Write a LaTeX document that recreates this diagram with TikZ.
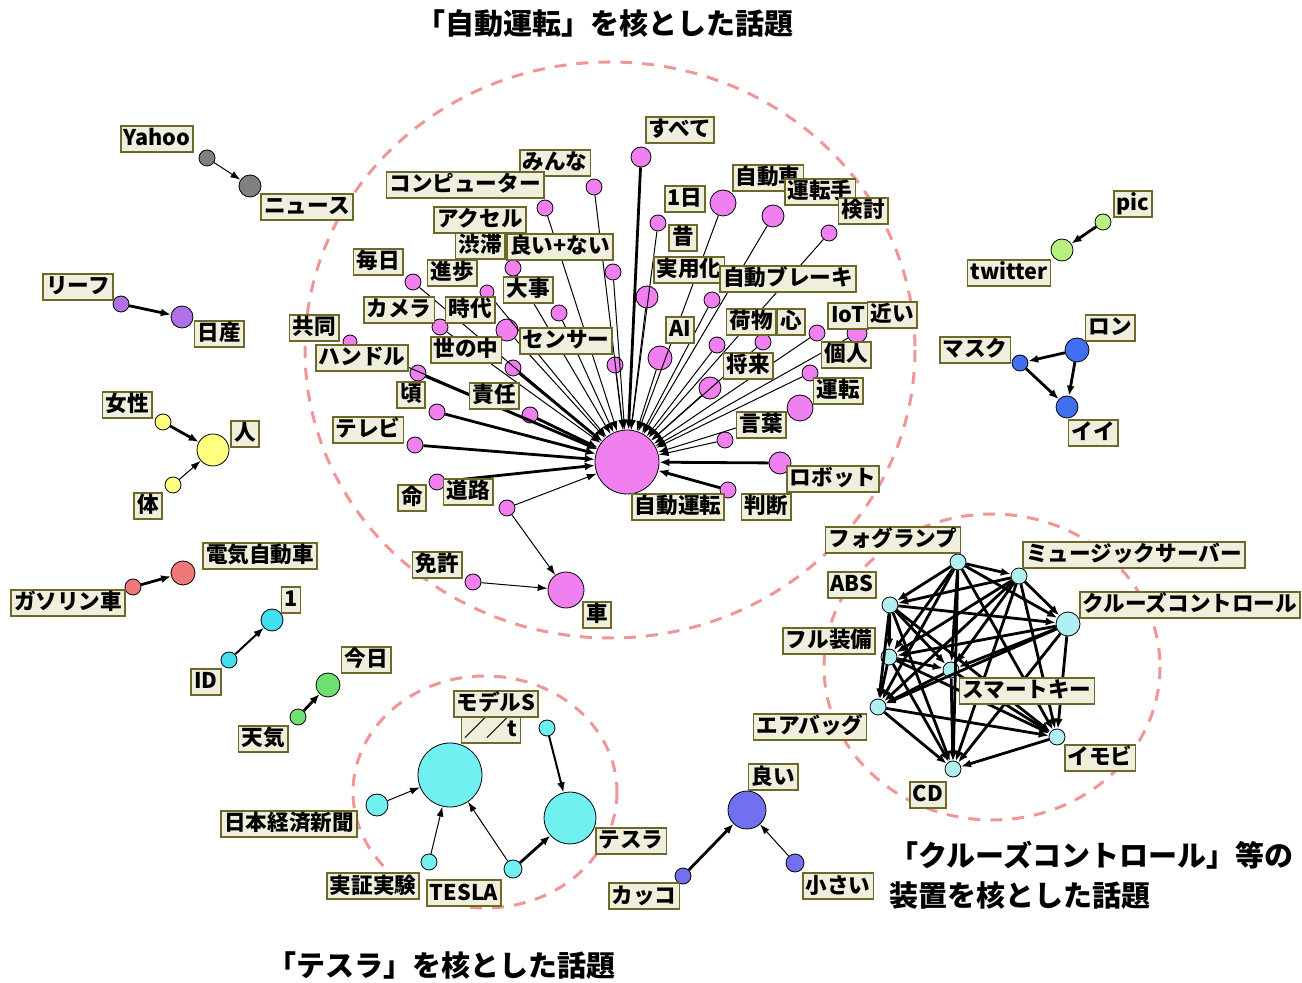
\documentclass[tikz,border=0pt]{standalone}
\usepackage{fontspec}
\newfontfamily\jpfont{Noto Sans CJK JP}
\usetikzlibrary{arrows.meta}
\newcommand{\wordfont}{\jpfont\bfseries\fontsize{10.8}{12}\selectfont}
\newcommand{\themefont}{\jpfont\bfseries\fontsize{14.5}{20}\selectfont}
\definecolor{wordfill}{RGB}{240,238,220}
\definecolor{wordline}{RGB}{110,105,40}
\definecolor{ringpink}{RGB}{240,150,150}
\definecolor{pinkc}{RGB}{240,128,240}
\definecolor{tealc}{RGB}{112,240,240}
\definecolor{icec}{RGB}{176,240,240}
\definecolor{grayc}{RGB}{128,128,128}
\definecolor{purplec}{RGB}{176,112,232}
\definecolor{yellowc}{RGB}{255,255,128}
\definecolor{redc}{RGB}{240,120,120}
\definecolor{cyanc}{RGB}{64,224,240}
\definecolor{greenc}{RGB}{112,224,112}
\definecolor{limec}{RGB}{184,240,128}
\definecolor{bluec}{RGB}{64,112,240}
\definecolor{violetc}{RGB}{112,112,240}
\tikzset{word/.style={draw=wordline,fill=wordfill,line width=0.9pt,inner xsep=1.5pt,
  inner ysep=1.2pt,text height=8.8pt,text depth=1.8pt,font=\wordfont}}
\tikzset{key/.style={circle,draw=black,thin,fill=#1,inner sep=0pt},key/.default=pinkc}
\tikzset{link/.style={-{Latex[length=5pt,width=3.5pt]},line width=0.5pt}}
\tikzset{heavy/.style={-{Latex[length=5pt,width=4pt]},line width=1.4pt}}
\tikzset{ring/.style={draw=ringpink,line width=1.5pt,dash pattern=on 6pt off 5pt}}
\tikzset{theme/.style={font=\themefont,inner sep=0pt}}

\begin{document}
\begin{tikzpicture}[x=0.5pt,y=-0.5pt]
	\useasboundingbox (0,0) rectangle (1302,983);

	% Os circulos tracejados
	\draw [ring] (610,350) ellipse [x radius=305, y radius=288];
	\draw [ring] (485,792) ellipse [x radius=132, y radius=116];
	\draw [ring] (992,667) ellipse [x radius=168, y radius=153];

	% Os titulos
	\node [theme] (title drive) at (605,24) {「自動運転」を核とした話題};
	\node [theme] (title tesla) at (441,966) {「テスラ」を核とした話題};
	\node [theme, anchor=west, align=left] (title cruise) at (889,875)
		{「クルーズコントロール」等の\\装置を核とした話題};

	% Os nos do grupo "自動運転"
	\node [key, minimum size=32pt] (hub) at (627,462) {};
	\node [key, minimum size=18pt] (car) at (566,590) {};
	\node [key, minimum size=8pt] (licence) at (473,582) {};
	\node [key, minimum size=10pt] (k1) at (641,157) {};
	\node [key, minimum size=8pt] (k2) at (594,187) {};
	\node [key, minimum size=8pt] (k3) at (545,208) {};
	\node [key, minimum size=8pt] (k4) at (658,223) {};
	\node [key, minimum size=13pt] (k5) at (723,203) {};
	\node [key, minimum size=11pt] (k6) at (773,216) {};
	\node [key, minimum size=8pt] (k7) at (829,233) {};
	\node [key, minimum size=8pt] (k8) at (513,268) {};
	\node [key, minimum size=8pt] (k9) at (613,272) {};
	\node [key, minimum size=8pt] (k10) at (413,282) {};
	\node [key, minimum size=7pt] (k11) at (487,292) {};
	\node [key, minimum size=8pt] (k12) at (559,313) {};
	\node [key, minimum size=11pt] (k13) at (647,297) {};
	\node [key, minimum size=8pt] (k14) at (712,300) {};
	\node [key, minimum size=8pt] (k15) at (440,327) {};
	\node [key, minimum size=11pt] (k16) at (507,330) {};
	\node [key, minimum size=7pt] (k17) at (350,342) {};
	\node [key, minimum size=8pt] (k18) at (418,373) {};
	\node [key, minimum size=8pt] (k19) at (513,368) {};
	\node [key, minimum size=8pt] (k20) at (437,412) {};
	\node [key, minimum size=8pt] (k21) at (530,415) {};
	\node [key, minimum size=8pt] (k22) at (415,445) {};
	\node [key, minimum size=8pt] (k23) at (437,482) {};
	\node [key, minimum size=8pt] (k24) at (507,508) {};
	\node [key, minimum size=8pt] (k25) at (817,333) {};
	\node [key, minimum size=10pt] (k26) at (857,333) {};
	\node [key, minimum size=8pt] (k27) at (763,342) {};
	\node [key, minimum size=8pt] (k28) at (717,345) {};
	\node [key, minimum size=12pt] (k29) at (660,358) {};
	\node [key, minimum size=8pt] (k30) at (615,365) {};
	\node [key, minimum size=11pt] (k31) at (710,388) {};
	\node [key, minimum size=8pt] (k32) at (810,373) {};
	\node [key, minimum size=13pt] (k33) at (800,408) {};
	\node [key, minimum size=8pt] (k34) at (725,440) {};
	\node [key, minimum size=11pt] (k35) at (780,463) {};
	\node [key, minimum size=8pt] (k36) at (728,490) {};

	% As flechas para o no central
	\path [link] (k2) edge (hub) (k3) edge (hub) (k4) edge (hub) (k5) edge (hub)
		(k6) edge (hub) (k7) edge (hub) (k8) edge (hub) (k9) edge (hub)
		(k10) edge (hub) (k11) edge (hub) (k12) edge (hub) (k13) edge (hub)
		(k14) edge (hub) (k15) edge (hub) (k16) edge (hub) (k17) edge (hub)
		(k24) edge (hub) (k25) edge (hub) (k26) edge (hub) (k27) edge (hub)
		(k28) edge (hub) (k29) edge (hub) (k30) edge (hub) (k31) edge (hub)
		(k32) edge (hub) (k33) edge (hub) (k34) edge (hub)
		(k24) edge (car) (licence) edge (car);
	\path [heavy] (k1) edge (hub) (k18) edge (hub) (k19) edge (hub)
		(k20) edge (hub) (k21) edge (hub) (k22) edge (hub) (k23) edge (hub)
		(k35) edge (hub) (k36) edge (hub);

	% Os rotulos do grupo "自動運転"
	\node [word] (t subete) at (680,130) {すべて};
	\node [word] (t minna) at (555,163) {みんな};
	\node [word] (t computer) at (465,185) {コンピューター};
	\node [word] (t ichinichi) at (685,199) {1日};
	\node [word] (t jidousha) at (768,178) {自動車};
	\node [word] (t untenshu) at (820,192) {運転手};
	\node [word] (t kentou) at (863,211) {検討};
	\node [word] (t accel) at (480,220) {アクセル};
	\node [word] (t juutai) at (480,246) {渋滞};
	\node [word] (t yoinai) at (560,247) {良い+ない};
	\node [word] (t mainichi) at (378,262) {毎日};
	\node [word] (t shinpo) at (452,273) {進歩};
	\node [word] (t mukashi) at (683,238) {昔};
	\node [word] (t daiji) at (528,290) {大事};
	\node [word] (t jitsuyou) at (689,270) {実用化};
	\node [word] (t brake) at (788,279) {自動ブレーキ};
	\node [word] (t camera) at (399,310) {カメラ};
	\node [word] (t jidai) at (470,310) {時代};
	\node [word] (t kyoudou) at (314,328) {共同};
	\node [word] (t handle) at (362,358) {ハンドル};
	\node [word] (t yononaka) at (466,350) {世の中};
	\node [word] (t sensor) at (566,341) {センサー};
	\node [word] (t ai) at (680,330) {AI};
	\node [word] (t nimotsu) at (751,322) {荷物};
	\node [word] (t kokoro) at (791,322) {心};
	\node [word] (t iot) at (848,316) {IoT};
	\node [word] (t chikai) at (892,315) {近い};
	\node [word] (t shourai) at (748,366) {将来};
	\node [word] (t kojin) at (846,355) {個人};
	\node [word] (t koro) at (411,395) {頃};
	\node [word] (t sekinin) at (494,396) {責任};
	\node [word] (t tv) at (368,430) {テレビ};
	\node [word] (t unten) at (838,391) {運転};
	\node [word] (t kotoba) at (761,425) {言葉};
	\node [word] (t robot) at (833,479) {ロボット};
	\node [word] (t inochi) at (412,498) {命};
	\node [word] (t douro) at (468,492) {道路};
	\node [word] (t handan) at (766,507) {判断};
	\node [word] (t jidouunten) at (678,507) {自動運転};
	\node [word] (t menkyo) at (437,565) {免許};
	\node [word] (t kuruma) at (597,615) {車};

	% Pares pequenos da esquerda
	\node [key=grayc, minimum size=8pt] (yahoo) at (207,158) {};
	\node [key=grayc, minimum size=11pt] (news) at (250,186) {};
	\draw [link] (yahoo) -- (news);
	\node [word] (t yahoo) at (157,139) {Yahoo};
	\node [word] (t news) at (307,207) {ニュース};

	\node [key=purplec, minimum size=8pt] (leaf) at (121,304) {};
	\node [key=purplec, minimum size=11pt] (nissan) at (182,317) {};
	\draw [heavy] (leaf) -- (nissan);
	\node [word] (t leaf) at (78,287) {リーフ};
	\node [word] (t nissan) at (219,334) {日産};

	\node [key=yellowc, minimum size=8pt] (josei) at (163,422) {};
	\node [key=yellowc, minimum size=8pt] (karada) at (173,485) {};
	\node [key=yellowc, minimum size=16pt] (hito) at (213,450) {};
	\draw [heavy] (josei) -- (hito);
	\draw [link] (karada) -- (hito);
	\node [word] (t josei) at (127,405) {女性};
	\node [word] (t hito) at (245,434) {人};
	\node [word] (t karada) at (148,506) {体};

	\node [key=redc, minimum size=8pt] (gasoline) at (133,587) {};
	\node [key=redc, minimum size=12pt] (ev) at (183,573) {};
	\draw [heavy] (gasoline) -- (ev);
	\node [word] (t ev) at (260,556) {電気自動車};
	\node [word] (t gasoline) at (68,603) {ガソリン車};

	\node [key=cyanc, minimum size=8pt] (id) at (229,660) {};
	\node [key=cyanc, minimum size=11pt] (one) at (272,620) {};
	\draw [heavy, line width=1pt] (id) -- (one);
	\node [word] (t one) at (291,600) {1};
	\node [word] (t id) at (206,682) {ID};

	\node [key=greenc, minimum size=8pt] (tenki) at (298,717) {};
	\node [key=greenc, minimum size=12pt] (kyou) at (328,685) {};
	\draw [heavy] (tenki) -- (kyou);
	\node [word] (t kyou) at (366,660) {今日};
	\node [word] (t tenki) at (263,739) {天気};

	% Pares pequenos da direita
	\node [key=limec, minimum size=8pt] (pic) at (1103,222) {};
	\node [key=limec, minimum size=11pt] (twitter) at (1062,250) {};
	\draw [heavy] (pic) -- (twitter);
	\node [word] (t pic) at (1133,204) {pic};
	\node [word] (t twitter) at (1009,273) {twitter};

	\node [key=bluec, minimum size=12pt] (ron) at (1077,350) {};
	\node [key=bluec, minimum size=8pt] (mask) at (1020,363) {};
	\node [key=bluec, minimum size=11pt] (ii) at (1067,407) {};
	\draw [heavy] (ron) -- (mask);
	\draw [heavy] (mask) -- (ii);
	\draw [heavy] (ron) -- (ii);
	\node [word] (t ron) at (1110,328) {ロン};
	\node [word] (t mask) at (975,350) {マスク};
	\node [word] (t ii) at (1093,433) {イイ};

	% O grupo "テスラ"
	\node [key=tealc, minimum size=32pt] (slash) at (450,775) {};
	\node [key=tealc, minimum size=26pt] (tesla) at (570,818) {};
	\node [key=tealc, minimum size=8pt] (models) at (547,728) {};
	\node [key=tealc, minimum size=11pt] (nikkei) at (377,805) {};
	\node [key=tealc, minimum size=8pt] (jikken) at (429,862) {};
	\node [key=tealc, minimum size=9pt] (teslaen) at (513,869) {};
	\draw [heavy, line width=1pt] (models) -- (tesla);
	\draw [link] (nikkei) -- (slash);
	\draw [link] (jikken) -- (slash);
	\draw [link] (teslaen) -- (slash);
	\draw [heavy] (teslaen) -- (tesla);
	\node [word] (t models) at (496,704) {モデルS};
	\node [word] (t slash) at (491,730) {／／t};
	\node [word] (t nikkei) at (289,824) {日本経済新聞};
	\node [word] (t tesla) at (631,841) {テスラ};
	\node [word] (t jikken) at (373,886) {実証実験};
	\node [word] (t teslaen) at (464,893) {TESLA};

	% O grupo "良い"
	\node [key=violetc, minimum size=19pt] (yoi) at (747,810) {};
	\node [key=violetc, minimum size=8pt] (kakko) at (683,876) {};
	\node [key=violetc, minimum size=9pt] (chiisai) at (795,863) {};
	\draw [heavy] (kakko) -- (yoi);
	\draw [link] (chiisai) -- (yoi);
	\node [word] (t yoi) at (773,777) {良い};
	\node [word] (t kakko) at (644,896) {カッコ};
	\node [word] (t chiisai) at (838,886) {小さい};

	% O grupo "クルーズコントロール"
	\node [key=icec, minimum size=8pt] (fog) at (958,562) {};
	\node [key=icec, minimum size=8pt] (music) at (1019,576) {};
	\node [key=icec, minimum size=8pt] (abs) at (890,605) {};
	\node [key=icec, minimum size=12pt] (cruise) at (1068,624) {};
	\node [key=icec, minimum size=8pt] (full) at (889,657) {};
	\node [key=icec, minimum size=8pt] (smartkey) at (951,670) {};
	\node [key=icec, minimum size=8pt] (airbag) at (878,707) {};
	\node [key=icec, minimum size=8pt] (immobi) at (1057,737) {};
	\node [key=icec, minimum size=8pt] (cd) at (953,769) {};
	\path [heavy] (fog) edge (music) edge (abs) edge (cruise) edge (full)
			edge (smartkey) edge (airbag) edge (immobi) edge (cd)
		(music) edge (abs) edge (cruise) edge (full) edge (smartkey)
			edge (airbag) edge (immobi) edge (cd)
		(abs) edge (cruise) edge (full) edge (smartkey) edge (airbag)
			edge (immobi) edge (cd)
		(cruise) edge (full) edge (smartkey) edge (airbag) edge (immobi) edge (cd)
		(full) edge (smartkey) edge (airbag) edge (immobi) edge (cd)
		(smartkey) edge (airbag) edge (immobi) edge (cd)
		(airbag) edge (immobi) edge (cd)
		(immobi) edge (cd);
	\node [word] (t fog) at (893,540) {フォグランプ};
	\node [word] (t music) at (1134,555) {ミュージックサーバー};
	\node [word] (t abs) at (852,585) {ABS};
	\node [word] (t cruise) at (1190,605) {クルーズコントロール};
	\node [word] (t full) at (829,641) {フル装備};
	\node [word] (t smartkey) at (1027,691) {スマートキー};
	\node [word] (t airbag) at (810,727) {エアバッグ};
	\node [word] (t immobi) at (1100,758) {イモビ};
	\node [word] (t cd) at (928,795) {CD};

\end{tikzpicture}
\end{document}
